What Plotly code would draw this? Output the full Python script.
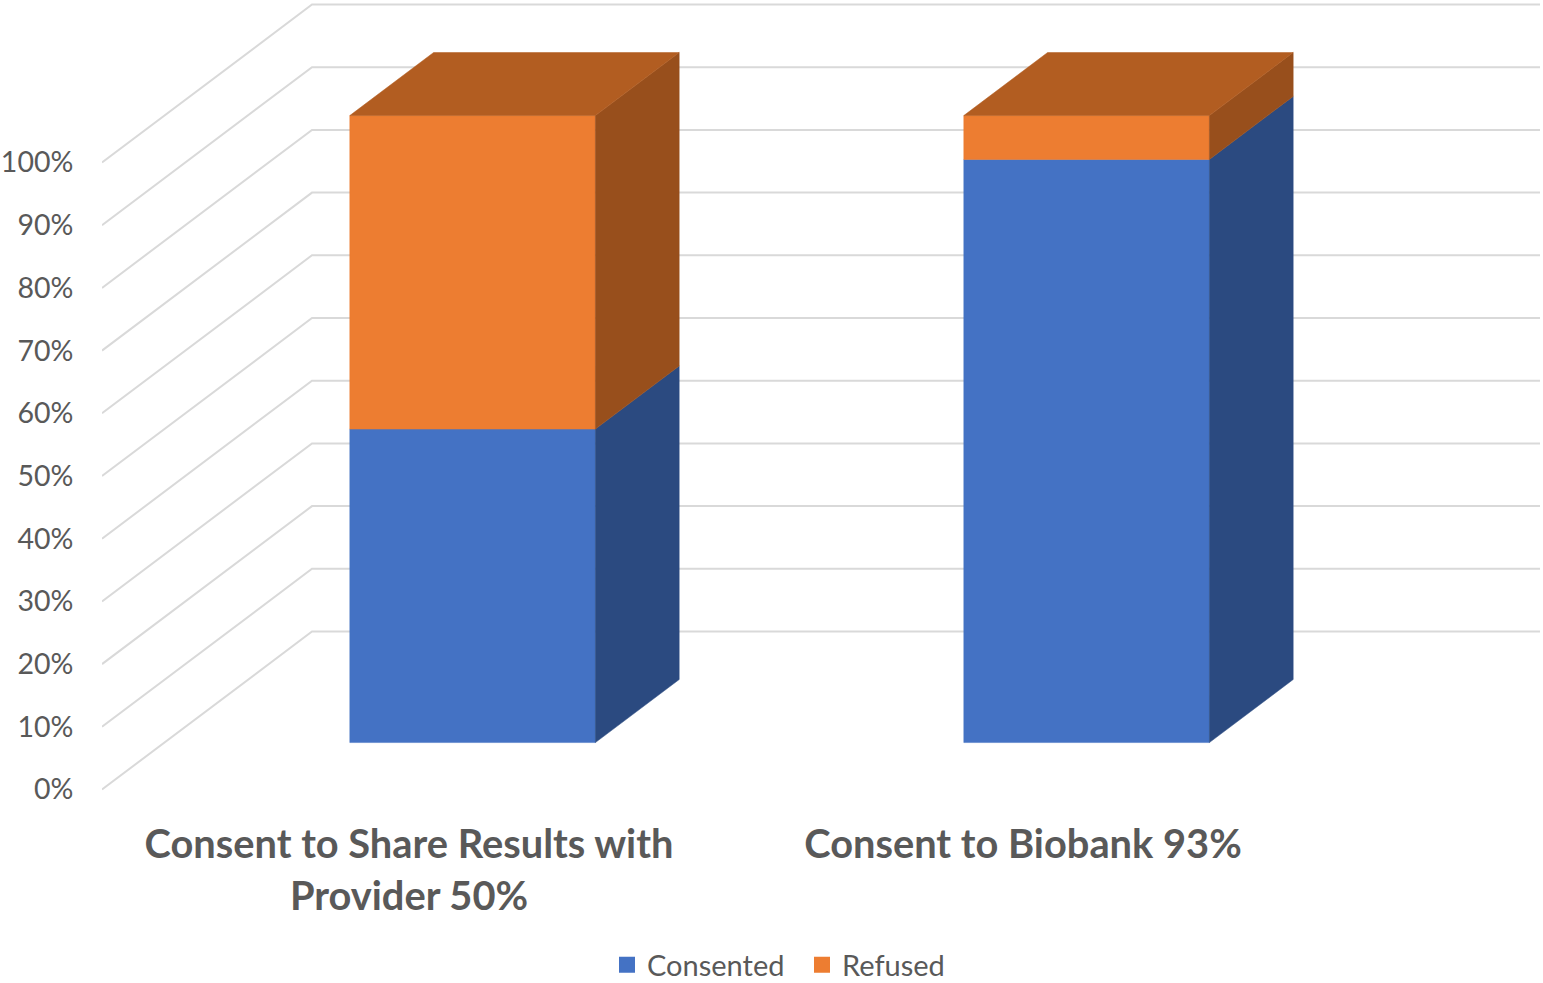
import plotly.graph_objects as go

categories = ["Consent to Share Results with<br>Provider 50%", "Consent to Biobank 93%"]
consented = [50, 93]
refused = [50, 7]
tick_values = [0, 10, 20, 30, 40, 50, 60, 70, 80, 90, 100]
tick_labels = ["0%", "10%", "20%", "30%", "40%", "50%", "60%", "70%", "80%", "90%", "100%"]

# oblique 3D projection, in axis units: depth 0 = front of the chart, 1 = back wall
W, H = 1543, 983
PX_X = 614.0          # pixels per category
PX_Y = 6.27           # pixels per percent
SKEW_X = 210 / PX_X   # horizontal shift of the full depth, x units
SKEW_Y = 158 / PX_Y   # vertical shift of the full depth, y units
LEFT, ZERO, BOTTOM = 102, 789.5, 800
BAR_WIDTH = 0.4
BAR_NUDGE = 0.002     # small sideways offset of the columns, x units
D_FRONT, D_BACK = 0.297, 0.696

BLUE, BLUE_SIDE = "#4472C4", "#2B4A80"
ORANGE, ORANGE_SIDE, ORANGE_TOP = "#ED7D31", "#984F1C", "#B25D21"
GRID, TEXT = "#D9D9D9", "#595959"


def proj(x, depth, value):
    return x + depth * SKEW_X, value + depth * SKEW_Y


def poly(points, color, name):
    xy = [proj(*p) for p in points]
    xs = [p[0] for p in xy] + [xy[0][0]]
    ys = [p[1] for p in xy] + [xy[0][1]]
    return go.Scatter(x=xs, y=ys, mode="lines", fill="toself", fillcolor=color,
                      line=dict(color=color, width=0.5), showlegend=False,
                      hoverinfo="skip", name=name)


fig = go.Figure()

# walls' gridlines
for v in tick_values:
    xy = [proj(0, 0, v), proj(0, 1, v), proj(2, 1, v)]
    fig.add_trace(go.Scatter(x=[p[0] for p in xy], y=[p[1] for p in xy], mode="lines",
                             line=dict(color=GRID, width=2), showlegend=False, hoverinfo="skip"))

# stacked columns
for i, cat in enumerate(categories):
    x0 = i + 0.5 - BAR_WIDTH / 2 + BAR_NUDGE
    x1 = i + 0.5 + BAR_WIDTH / 2 + BAR_NUDGE
    low, mid = 0, consented[i]
    top = mid + refused[i]
    fig.add_trace(poly([(x0, D_FRONT, low), (x1, D_FRONT, low), (x1, D_FRONT, mid), (x0, D_FRONT, mid)], BLUE, "Consented"))
    fig.add_trace(poly([(x1, D_FRONT, low), (x1, D_BACK, low), (x1, D_BACK, mid), (x1, D_FRONT, mid)], BLUE_SIDE, "Consented"))
    fig.add_trace(poly([(x0, D_FRONT, mid), (x1, D_FRONT, mid), (x1, D_FRONT, top), (x0, D_FRONT, top)], ORANGE, "Refused"))
    fig.add_trace(poly([(x1, D_FRONT, mid), (x1, D_BACK, mid), (x1, D_BACK, top), (x1, D_FRONT, top)], ORANGE_SIDE, "Refused"))
    fig.add_trace(poly([(x0, D_FRONT, top), (x1, D_FRONT, top), (x1, D_BACK, top), (x0, D_BACK, top)], ORANGE_TOP, "Refused"))

# legend keys
for name, color in (("Consented", BLUE), ("Refused", ORANGE)):
    fig.add_trace(go.Scatter(x=[None], y=[None], mode="markers", name=name,
                             marker=dict(symbol="square", size=16, color=color)))

fig.update_layout(
    width=W, height=H, autosize=False,
    paper_bgcolor="white", plot_bgcolor="white",
    margin=dict(l=LEFT, r=0, t=0, b=H - BOTTOM, pad=0, autoexpand=False),
    font=dict(family="Lato, Carlito, sans-serif", color=TEXT),
    legend=dict(orientation="h", x=(607 - LEFT) / (W - LEFT), xanchor="left",
                y=(BOTTOM - 965) / BOTTOM, yanchor="middle",
                font=dict(size=29, color=TEXT), itemsizing="trace", itemwidth=30,
                entrywidth=150, entrywidthmode="pixels", bgcolor="rgba(0,0,0,0)"),
    xaxis=dict(range=[0, (W - LEFT) / PX_X], tickmode="array", tickvals=[0.5, 1.5], automargin=False,
               ticktext=categories, tickfont=dict(size=39.8, family="Lato", color=TEXT, weight="bold"),
               showgrid=False, zeroline=False, showline=False, ticks="outside", ticklen=9,
               tickcolor="rgba(0,0,0,0)"),
    yaxis=dict(range=[(ZERO - BOTTOM) / PX_Y, ZERO / PX_Y], tickmode="array", tickvals=tick_values,
               automargin=False, ticktext=tick_labels, tickfont=dict(size=28.5, family="Lato", color=TEXT),
               showgrid=False, zeroline=False, showline=False, ticks="outside", ticklen=22,
               tickcolor="rgba(0,0,0,0)"),
)

fig.write_html("out.html", config={"displayModeBar": False},
               post_script="document.body.style.margin='0';document.body.style.overflow='hidden';")
